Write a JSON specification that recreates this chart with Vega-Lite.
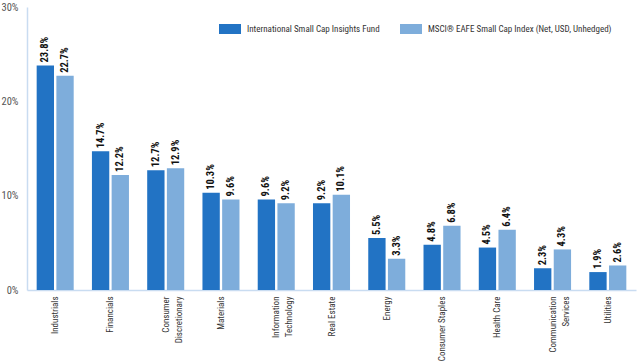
{
  "$schema": "https://vega.github.io/schema/vega-lite/v6.json",
  "width": 609,
  "height": 283,
  "autosize": {"type": "none"},
  "padding": {"left": 27, "top": 7, "right": 1, "bottom": 72},
  "background": "white",
  "config": {
    "view": {"stroke": null},
    "font": "Liberation Sans Narrow, Roboto Condensed, DejaVu Sans Condensed, sans-serif"
  },
  "data": {
    "values": [
      {"sector": "Industrials", "series": "International Small Cap Insights Fund", "value": 0.238},
      {"sector": "Industrials", "series": "MSCI® EAFE Small Cap Index (Net, USD, Unhedged)", "value": 0.227},
      {"sector": "Financials", "series": "International Small Cap Insights Fund", "value": 0.147},
      {"sector": "Financials", "series": "MSCI® EAFE Small Cap Index (Net, USD, Unhedged)", "value": 0.122},
      {"sector": "Consumer Discretionary", "series": "International Small Cap Insights Fund", "value": 0.127},
      {"sector": "Consumer Discretionary", "series": "MSCI® EAFE Small Cap Index (Net, USD, Unhedged)", "value": 0.129},
      {"sector": "Materials", "series": "International Small Cap Insights Fund", "value": 0.103},
      {"sector": "Materials", "series": "MSCI® EAFE Small Cap Index (Net, USD, Unhedged)", "value": 0.096},
      {"sector": "Information Technology", "series": "International Small Cap Insights Fund", "value": 0.096},
      {"sector": "Information Technology", "series": "MSCI® EAFE Small Cap Index (Net, USD, Unhedged)", "value": 0.092},
      {"sector": "Real Estate", "series": "International Small Cap Insights Fund", "value": 0.092},
      {"sector": "Real Estate", "series": "MSCI® EAFE Small Cap Index (Net, USD, Unhedged)", "value": 0.101},
      {"sector": "Energy", "series": "International Small Cap Insights Fund", "value": 0.055},
      {"sector": "Energy", "series": "MSCI® EAFE Small Cap Index (Net, USD, Unhedged)", "value": 0.033},
      {"sector": "Consumer Staples", "series": "International Small Cap Insights Fund", "value": 0.048},
      {"sector": "Consumer Staples", "series": "MSCI® EAFE Small Cap Index (Net, USD, Unhedged)", "value": 0.068},
      {"sector": "Health Care", "series": "International Small Cap Insights Fund", "value": 0.045},
      {"sector": "Health Care", "series": "MSCI® EAFE Small Cap Index (Net, USD, Unhedged)", "value": 0.064},
      {"sector": "Communication Services", "series": "International Small Cap Insights Fund", "value": 0.023},
      {"sector": "Communication Services", "series": "MSCI® EAFE Small Cap Index (Net, USD, Unhedged)", "value": 0.043},
      {"sector": "Utilities", "series": "International Small Cap Insights Fund", "value": 0.019},
      {"sector": "Utilities", "series": "MSCI® EAFE Small Cap Index (Net, USD, Unhedged)", "value": 0.026}
    ]
  },
  "encoding": {
    "x": {
      "field": "sector",
      "type": "nominal",
      "sort": null,
      "scale": {"paddingInner": 0.33, "paddingOuter": 0.175},
      "axis": {
        "title": null,
        "labelAngle": -90,
        "labelAlign": "right",
        "labelBaseline": "middle",
        "labelPadding": 6,
        "labelFontSize": 9,
        "labelColor": "#333333",
        "labelLimit": 200,
        "labelLineHeight": 13,
        "ticks": false,
        "domainColor": "#c9dcf1",
        "domainWidth": 1.5,
        "labelExpr": "datum.value == 'Consumer Discretionary' ? ['Consumer', 'Discretionary'] : datum.value == 'Information Technology' ? ['Information', 'Technology'] : datum.value == 'Communication Services' ? ['Communication', 'Services'] : datum.value"
      }
    },
    "xOffset": {
      "field": "series",
      "type": "nominal",
      "sort": null,
      "scale": {"paddingInner": 0.12}
    },
    "y": {
      "field": "value",
      "type": "quantitative",
      "scale": {"domain": [0, 0.3]},
      "axis": {
        "title": null,
        "format": ".0%",
        "values": [0, 0.1, 0.2, 0.3],
        "grid": false,
        "ticks": false,
        "labelPadding": 9,
        "labelFontSize": 10.5,
        "labelColor": "#555555",
        "domainColor": "#c9dcf1",
        "domainWidth": 1.5
      }
    }
  },
  "layer": [
    {
      "mark": {"type": "bar"},
      "encoding": {
        "color": {
          "field": "series",
          "type": "nominal",
          "sort": null,
          "scale": {"range": ["#2273c4", "#7eaddb"]},
          "legend": {
            "title": null,
            "orient": "none",
            "direction": "horizontal",
            "legendX": 193,
            "legendY": 12,
            "symbolType": "M-1.1,-0.5H1.1V0.5H-1.1Z",
            "symbolSize": 400,
            "symbolStrokeWidth": 0,
            "symbolOpacity": 1,
            "labelFontSize": 9,
            "labelColor": "#333333",
            "labelLimit": 400,
            "labelOffset": 7,
            "columnPadding": 20
          }
        }
      }
    },
    {
      "mark": {
        "type": "text",
        "angle": 270,
        "align": "left",
        "baseline": "middle",
        "dx": 3,
        "fontWeight": "bold",
        "fontSize": 10.5,
        "color": "#111111"
      },
      "encoding": {
        "text": {"field": "value", "type": "quantitative", "format": ".1%"}
      }
    }
  ]
}
